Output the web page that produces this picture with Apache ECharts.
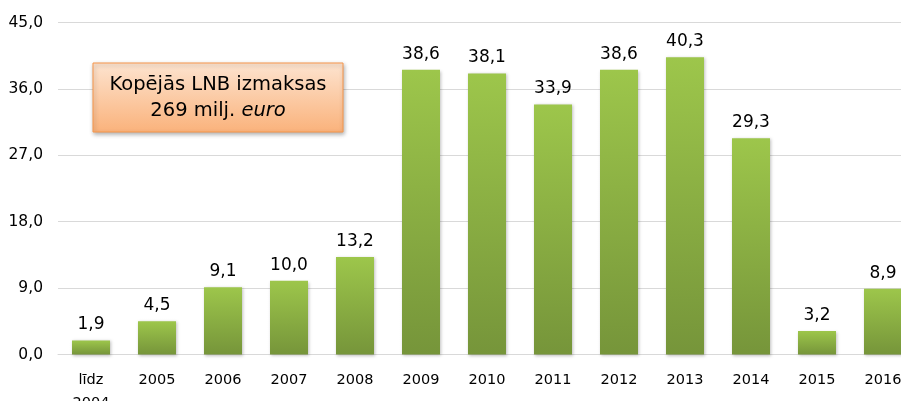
<!DOCTYPE html>
<html>
<head>
<meta charset="utf-8">
<script src="https://cdn.jsdelivr.net/npm/echarts@6/dist/echarts.min.js"></script>
<style>
html,body{margin:0;padding:0;background:#fff;}
#chart{width:901px;height:401px;}
</style>
</head>
<body>
<div id="chart"></div>
<script>
const categories = ['līdz\n2004','2005','2006','2007','2008','2009','2010','2011','2012','2013','2014','2015','2016'];
const values = [1.9, 4.5, 9.1, 10.0, 13.2, 38.6, 38.1, 33.9, 38.6, 40.3, 29.3, 3.2, 8.9];
const yTicks = { min: 0, max: 45, interval: 9 };
const noteLine1 = 'Kopējās LNB izmaksas';
const noteLine2a = '269 milj. ';
const noteLine2b = 'euro';

const FONT = 'DejaVu Sans';
const fmt = v => Number(v).toFixed(1).replace('.', ',');

const chart = echarts.init(document.getElementById('chart'), null, {renderer: 'canvas'});
chart.setOption({
  animation: false,
  backgroundColor: '#ffffff',
  textStyle: { fontFamily: FONT },
  grid: { left: 58, right: -15, top: 22.5, bottom: 46.5, containLabel: false, outerBoundsMode: 'none' },
  xAxis: {
    type: 'category',
    data: categories,
    axisLine: { show: true, lineStyle: { color: '#d9d9d9', width: 1 } },
    axisTick: { show: false },
    axisLabel: { color: '#000', fontFamily: FONT, fontSize: 14.5, margin: 14, lineHeight: 23, interval: 0 }
  },
  yAxis: {
    type: 'value',
    min: yTicks.min, max: yTicks.max, interval: yTicks.interval,
    axisLine: { show: false },
    axisTick: { show: false },
    splitLine: { lineStyle: { color: '#d9d9d9', width: 1 } },
    axisLabel: { color: '#000', fontFamily: FONT, fontSize: 15.5, margin: 15, formatter: fmt }
  },
  series: [{
    type: 'bar',
    data: values,
    barWidth: 38,
    itemStyle: {
      color: new echarts.graphic.LinearGradient(0, 0, 0, 1, [
        { offset: 0, color: '#9dc64b' },
        { offset: 1, color: '#76953a' }
      ]),
      shadowColor: 'rgba(0,0,0,0.25)',
      shadowBlur: 3,
      shadowOffsetX: 1,
      shadowOffsetY: 1
    },
    label: {
      show: true,
      position: 'top',
      distance: 7,
      color: '#000',
      fontFamily: FONT,
      fontSize: 17,
      formatter: p => fmt(p.value)
    }
  }],
  graphic: [
    {
      type: 'rect',
      shape: { x: 93, y: 63, width: 250, height: 69 },
      style: {
        fill: new echarts.graphic.LinearGradient(0, 0, 0, 1, [
          { offset: 0, color: '#fde4d0' },
          { offset: 1, color: '#fab27b' }
        ]),
        stroke: '#f7964a',
        lineWidth: 1,
        shadowColor: 'rgba(0,0,0,0.3)',
        shadowBlur: 4,
        shadowOffsetX: 1,
        shadowOffsetY: 2
      },
      z: 10
    },
    {
      type: 'text',
      style: {
        x: 218, y: 98,
        text: noteLine1 + '\n' + noteLine2a + '{i|' + noteLine2b + '}',
        align: 'center',
        verticalAlign: 'middle',
        fontFamily: FONT,
        fontSize: 19.5,
        lineHeight: 26,
        fill: '#000',
        rich: { i: { fontStyle: 'italic', fontFamily: FONT, fontSize: 19.5, lineHeight: 26, fill: '#000' } }
      },
      z: 11
    }
  ]
});
</script>
</body>
</html>
